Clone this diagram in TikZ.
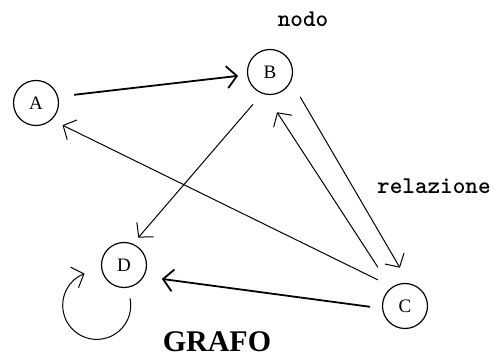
\documentclass[tikz,border=0pt]{standalone}
\usepackage{fontspec}
\setmainfont{Liberation Serif}
\usetikzlibrary{arrows.meta}
\begin{document}
\begin{tikzpicture}[x=1pt,y=-1pt,
  vert/.style={circle, draw, line width=1.2pt, minimum size=45pt, inner sep=0pt},
  vlbl/.style={font=\fontsize{19}{19}\selectfont},
  rel/.style={-{Straight Barb[length=10pt,width=22pt]}, line width=1pt},
  thickrel/.style={rel, line width=1.8pt},
  lbl/.style={font=\ttfamily\bfseries\fontsize{24}{24}\selectfont, inner sep=0pt}]
\useasboundingbox (0,0) rectangle (496,358);
\node[vert, vlbl] (A) at (36,103) {A};
\node[vert, vlbl] (B) at (270,72) {B};
\node[vert, vlbl] (D) at (124,265) {D};
\node[vert, vlbl] (C) at (405,306) {C};
\node[lbl] (nodo) at (303,19) {nodo};
\node[lbl, anchor=west] (rel) at (377,186) {relazione};
\node[font=\bfseries\fontsize{30}{30}\selectfont, inner sep=0pt, anchor=base] (grafo) at (217,352) {GRAFO};
\draw[thickrel, shorten <=16pt, shorten >=9pt] (A.16) -- (B.-173);
\draw[rel, shorten <=14pt, shorten >=8pt] (B.-110) -- (D.67);
\draw[rel, shorten <=16pt, shorten >=12pt] (C.124) -- (A.-47);
\draw[rel, shorten <=18pt, shorten >=18pt] (B.-24) -- (C.80);
\draw[rel, shorten <=24pt, shorten >=21pt] (C.127) -- (B.-101);
\draw[thickrel, shorten <=12pt, shorten >=18pt] (C.-174) -- (D.-30);
\draw[rel] (D.-75) ++(0,11) coordinate (loopstart) arc[start angle=-12, end angle=249, radius=34];
\end{tikzpicture}
\end{document}
